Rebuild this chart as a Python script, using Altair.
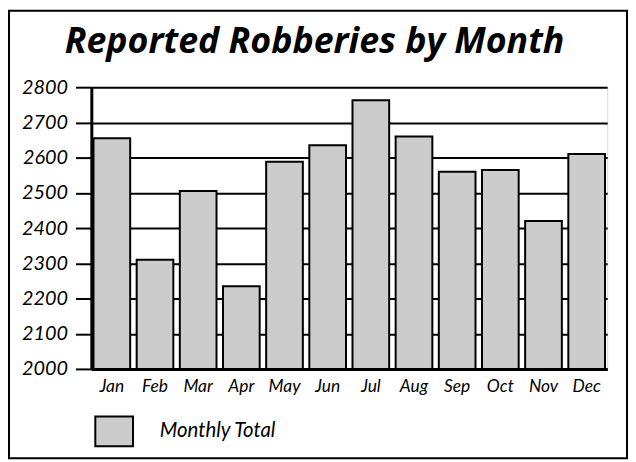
import altair as alt
import pandas as pd

months = ["Jan", "Feb", "Mar", "Apr", "May", "Jun", "Jul", "Aug", "Sep", "Oct", "Nov", "Dec"]
robberies = [2655, 2310, 2505, 2235, 2588, 2635, 2763, 2660, 2560, 2565, 2420, 2610]
series = ["Monthly Total"] * 12
y_ticks = [2000, 2100, 2200, 2300, 2400, 2500, 2600, 2700, 2800]

df = pd.DataFrame({"Month": months, "Robberies": robberies, "Series": series})

FONT = "Lato"

bars = alt.Chart(df).mark_bar(stroke="black", strokeWidth=2, opacity=1).encode(
    x=alt.X("Month:N", sort=months,
            scale=alt.Scale(paddingInner=0.15, paddingOuter=0.05),
            axis=alt.Axis(title=None, labelAngle=0, ticks=False, labelFont=FONT,
                          labelFontSize=17.5, labelFontStyle="italic", labelColor="black",
                          labelPadding=9, domainColor="black", domainWidth=3)),
    y=alt.Y("Robberies:Q",
            scale=alt.Scale(domain=[2000, 2800], zero=False, nice=False),
            axis=alt.Axis(values=y_ticks, title=None, format="d", labelFont=FONT,
                          labelFontSize=20, labelFontStyle="italic", labelColor="black",
                          tickColor="black", tickWidth=2, tickSize=16, labelPadding=8,
                          grid=True, gridColor="black", gridWidth=2, gridOpacity=1,
                          domainColor="black", domainWidth=3)),
    y2=alt.datum(2000),
    color=alt.Color("Series:N", scale=alt.Scale(range=["#cccccc"]),
                    legend=alt.Legend(orient="none", legendX=3, legendY=327, title=None,
                                      symbolType="M-1,-0.79L1,-0.79L1,0.79L-1,0.79Z",
                                      symbolSize=1444, symbolStrokeColor="black",
                                      symbolStrokeWidth=2, symbolOpacity=1,
                                      labelFont=FONT, labelFontSize=20.5,
                                      labelFontStyle="italic", labelColor="black",
                                      labelOffset=26, padding=0)),
)

border = alt.Chart(alt.Data(values=[{}])).mark_rect(
    fillOpacity=0, stroke="black", strokeWidth=2
).encode(
    x=alt.value(-83), x2=alt.value(540), y=alt.value(-77), y2=alt.value(374)
)

chart = alt.layer(bars, border).properties(
    width=520,
    height=284,
    autosize=alt.AutoSizeParams(type="none"),
    padding={"left": 84, "top": 78, "right": 21, "bottom": 91},
    title=alt.TitleParams("Reported Robberies by Month", font="Open Sans", fontSize=36,
                          fontWeight="bold", fontStyle="italic", anchor="middle",
                          frame="group", dx=-35, dy=74, offset=22, color="black"),
).configure_view(stroke="black", strokeWidth=2).configure(background="white")

chart.save("out.html", embed_options={"renderer": "svg", "actions": False})
